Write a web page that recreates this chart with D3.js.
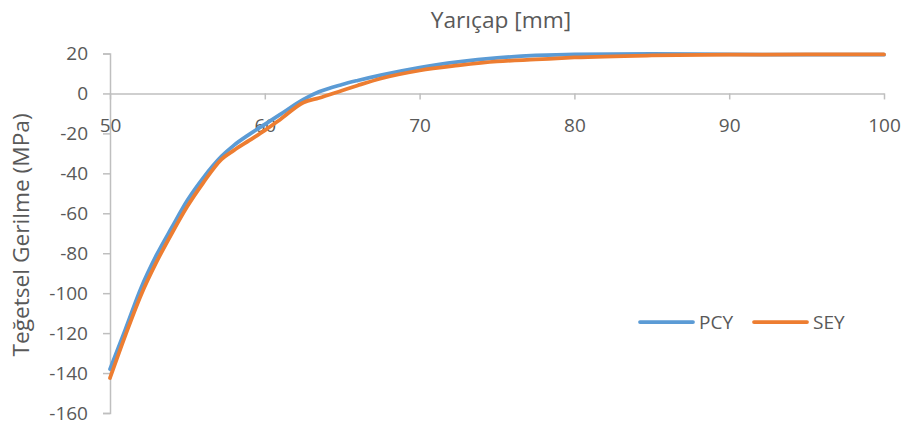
<!DOCTYPE html>
<html>
<head>
<meta charset="utf-8">
<script src="https://cdn.jsdelivr.net/npm/d3@7"></script>
<style>
  html, body { margin: 0; padding: 0; background: #fff; }
  svg { display: block; }
  text { font-family: "Open Sans", sans-serif; fill: #595959; }
</style>
</head>
<body>
<svg id="chart" width="906" height="429"></svg>
<script>
const radius = [50, 51, 52, 53, 54, 55, 56, 57.2, 58, 59, 60, 61, 62.5, 63.5, 65, 66, 67.5, 70, 72.5, 75, 77.5, 80, 85, 90, 95, 100];
const pcy = [-138, -118, -97.5, -81, -67, -53.5, -42.5, -31.5, -26, -20.5, -15.5, -10.5, -3, 0.8, 4.5, 6.5, 9.2, 13, 15.8, 17.8, 19, 19.6, 19.8, 19.5, 19.4, 19.4];
const sey = [-142.5, -121, -101, -84.5, -70, -56.5, -45, -33, -28.5, -23.5, -18.5, -13, -4.5, -2.3, 1.5, 4, 7.5, 11.5, 14, 16, 17, 18, 19, 19.4, 19.5, 19.5];
const xTicks = [50, 60, 70, 80, 90, 100];
const yTicks = [20, 0, -20, -40, -60, -80, -100, -120, -140, -160];
const seriesNames = ["PCY", "SEY"];
const colors = ["#5B9BD5", "#ED7D31"];
const xTitle = "Yarıçap [mm]";
const yTitle = "Teğetsel Gerilme (MPa)";

const svg = d3.select("#chart");
const x = d3.scaleLinear().domain([50, 100]).range([110, 884]);
const y = d3.scaleLinear().domain([-160, 20]).range([413, 53.5]);
const axisColor = "#BFBFBF";

// Y axis
const yAxis = svg.append("g").attr("transform", `translate(${x(50)},0)`)
  .call(d3.axisLeft(y).tickValues(yTicks).tickSize(7).tickPadding(15).tickFormat(d3.format("d")));
yAxis.select(".domain").attr("stroke", axisColor).attr("stroke-width", 1.5);
yAxis.selectAll(".tick line").attr("stroke", axisColor).attr("stroke-width", 1.5);
yAxis.selectAll(".tick text").attr("font-size", 19).attr("font-family", "Open Sans").attr("fill", "#595959")
  .text(d => d < 0 ? "-" + Math.abs(d) : d);

// X axis at y = 0
const xAxis = svg.append("g").attr("transform", `translate(0,${y(0)})`)
  .call(d3.axisBottom(x).tickValues(xTicks).tickSize(6).tickSizeOuter(0).tickFormat(d3.format("d")));
xAxis.select(".domain").attr("stroke", axisColor).attr("stroke-width", 1.5);
xAxis.selectAll(".tick line").attr("stroke", axisColor).attr("stroke-width", 1.5);
xAxis.selectAll(".tick text").attr("font-size", 19).attr("font-family", "Open Sans").attr("fill", "#595959")
  .attr("y", 39).attr("dy", 0);

// Lines
const line = d3.line().x((d, i) => x(radius[i])).y(d => y(d)).curve(d3.curveMonotoneX);
[pcy, sey].forEach((vals, k) => {
  svg.append("path").datum(vals).attr("d", line)
    .attr("fill", "none").attr("stroke", colors[k]).attr("stroke-width", 3.75)
    .attr("stroke-linejoin", "round").attr("stroke-linecap", "round");
});

// Titles
svg.append("text").attr("x", 501).attr("y", 28).attr("text-anchor", "middle")
  .attr("font-size", 22.7).text(xTitle);
svg.append("text").attr("transform", "translate(29,235) rotate(-90)").attr("text-anchor", "middle")
  .attr("font-size", 22.7).text(yTitle);

// Legend
const legX = [640, 754];
seriesNames.forEach((name, k) => {
  svg.append("line").attr("x1", legX[k]).attr("x2", legX[k] + 53).attr("y1", 322).attr("y2", 322)
    .attr("stroke", colors[k]).attr("stroke-width", 3.75).attr("stroke-linecap", "round");
  svg.append("text").attr("x", legX[k] + 59).attr("y", 329).attr("font-size", 19).text(name);
});
</script>
</body>
</html>
